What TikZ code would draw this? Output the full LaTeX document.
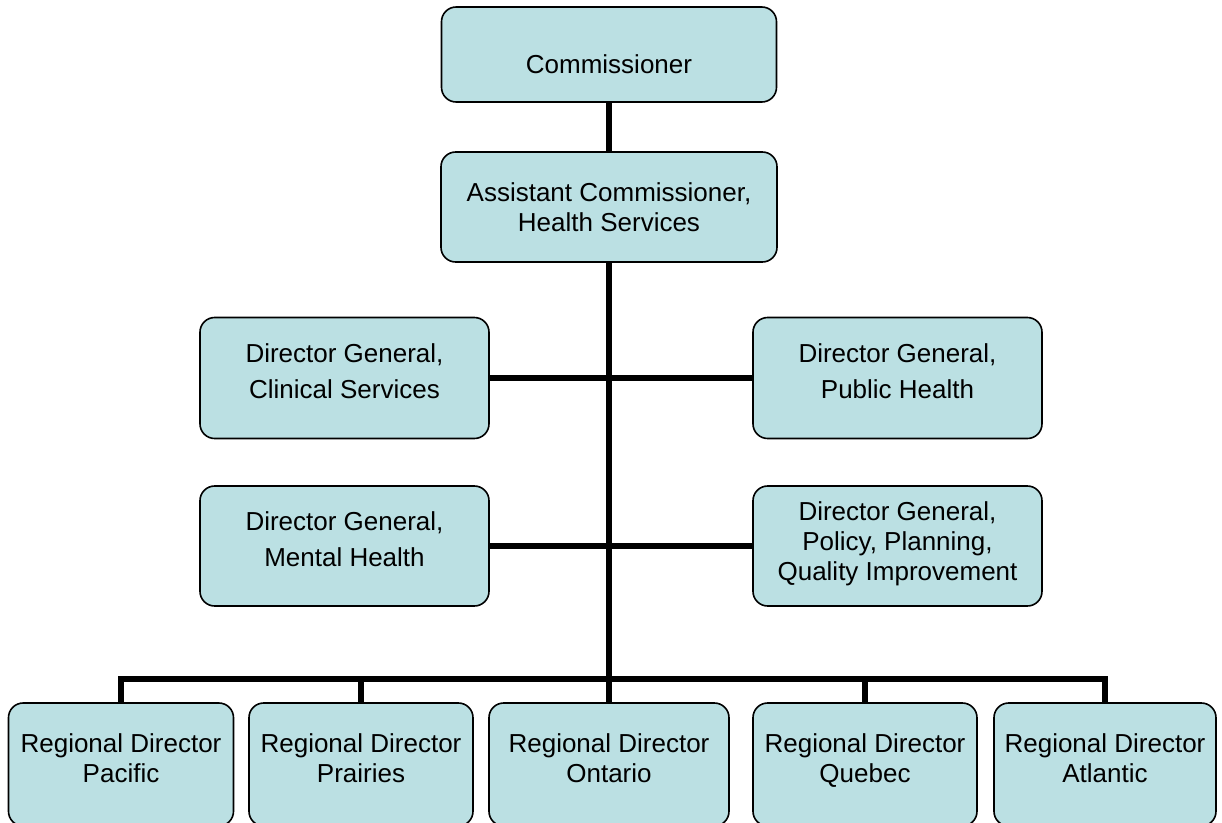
\documentclass[tikz,border=0pt]{standalone}
\usepackage{fontspec}
\setmainfont{Liberation Sans}
\definecolor{boxfill}{RGB}{187,224,227}
\tikzset{
  box/.style={draw=black, line width=1.2pt, fill=boxfill, rounded corners=11pt, inner sep=0pt},
  wh/.style 2 args={minimum width=#1*0.75pt, minimum height=#2*0.75pt},
  txt/.style={align=center, font=\fontsize{19.5}{22.5}\selectfont, text depth=0pt, inner sep=0pt},
  conn/.style={line width=4.5pt, line join=miter}
}
\begin{document}
\begin{tikzpicture}[x=0.75pt,y=-0.75pt]
\useasboundingbox (0,0) rectangle (1222,822);
% top
\node[box, wh={335}{95}, label={[txt, yshift=-7.5pt]center:{Commissioner}}] (com) at (609,54.5) {};
\node[box, wh={336}{110}, label={[txt, yshift=0pt]center:{Assistant Commissioner,\\Health Services}}] (ach) at (609,207) {};
% directors general
\node[box, wh={289}{121}, label={[txt, yshift=5pt]center:{Director General,\\[4.5pt]Clinical Services}}] (dgc) at (344.5,378) {};
\node[box, wh={289}{121}, label={[txt, yshift=5pt]center:{Director General,\\[4.5pt]Public Health}}] (dgp) at (897.5,378) {};
\node[box, wh={289}{120}, label={[txt, yshift=5pt]center:{Director General,\\[4.5pt]Mental Health}}] (dgm) at (344.5,546) {};
\node[box, wh={289}{120}, label={[txt, yshift=3.4pt]center:{Director General,\\Policy, Planning,\\Quality Improvement}}] (dgq) at (897.5,546) {};
% regional
\node[box, wh={225}{123}, label={[txt, yshift=4.9pt]center:{Regional Director\\Pacific}}] (rpac) at (121,764.5) {};
\node[box, wh={224}{123}, label={[txt, yshift=4.9pt]center:{Regional Director\\Prairies}}] (rpra) at (361,764.5) {};
\node[box, wh={240}{123}, label={[txt, yshift=4.9pt]center:{Regional Director\\Ontario}}] (ront) at (609,764.5) {};
\node[box, wh={224}{123}, label={[txt, yshift=4.9pt]center:{Regional Director\\Quebec}}] (rque) at (865,764.5) {};
\node[box, wh={222}{123}, label={[txt, yshift=4.9pt]center:{Regional Director\\Atlantic}}] (ratl) at (1105,764.5) {};
\coordinate (bus) at (609,679);
% connectors
\draw[conn] (com.south) -- (ach.north);
\draw[conn] (ach.south) -- (ront.north);
\draw[conn] (dgc.east) -- (dgp.west);
\draw[conn] (dgm.east) -- (dgq.west);
\draw[conn] (rpac.north) |- (bus);
\draw[conn] (rpra.north) |- (bus);
\draw[conn] (rque.north) |- (bus);
\draw[conn] (ratl.north) |- (bus);
\end{tikzpicture}
\end{document}
